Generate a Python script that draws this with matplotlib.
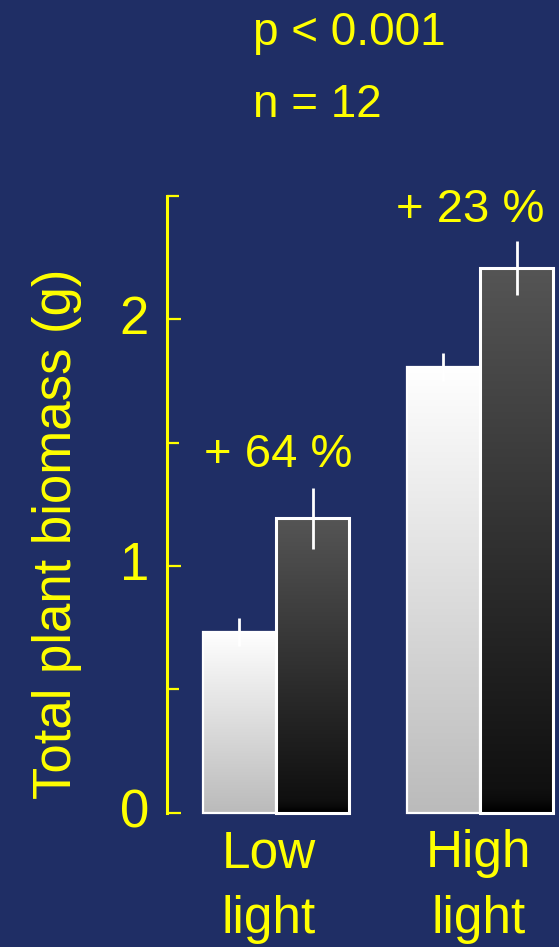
import numpy as np
import matplotlib
matplotlib.use("Agg")
import matplotlib.pyplot as plt
from matplotlib.colors import LinearSegmentedColormap
from matplotlib.transforms import ScaledTranslation

# Data
groups = ["Low\nlight", "High\nlight"]
control_mean = [0.732, 1.807]
control_err = [0.058, 0.057]
treated_mean = [1.193, 2.207]
treated_err = [0.124, 0.110]
increase_labels = ["+ 64 %", "+ 23 %"]
y_ticks = [0, 1, 2]
y_minor = [0.5, 1.5, 2.5]

BG = "#1f2e65"
YEL = "#ffff00"
FONT = "Liberation Sans"

plt.rcParams["font.family"] = [FONT, "DejaVu Sans"]

W, H = 559, 947
fig = plt.figure(figsize=(W / 100, H / 100), dpi=100, facecolor=BG)

# axes in pixel terms: spine at x=167, y=0 at 812.5 px, y=2.5 at 196 px
ax_left, ax_bottom_px, ax_top_px = 167, 812.5, 196
ax = fig.add_axes([ax_left / W, (H - ax_bottom_px) / H,
                   (W - ax_left) / W, (ax_bottom_px - ax_top_px) / H])
ax.set_facecolor("none")

x = np.arange(len(groups))
bw = 0.358

light_cmap = LinearSegmentedColormap.from_list("light", ["#bbbbbb", "#ffffff"])
dark_cmap = LinearSegmentedColormap.from_list(
    "dark", [(0.0, "#000000"), (0.02, "#0b0b0b"), (0.04, "#101010"), (1.0, "#555555")])
grad = np.linspace(0, 1, 256).reshape(-1, 1)

for xi, m, cmap in [(xx - bw / 2, mm, light_cmap) for xx, mm in zip(x, control_mean)] + \
                   [(xx + bw / 2, mm, dark_cmap) for xx, mm in zip(x, treated_mean)]:
    ax.imshow(grad, cmap=cmap, origin="lower", aspect="auto",
              extent=(xi - bw / 2, xi + bw / 2, 0, m), zorder=1, interpolation="bilinear")

ax.bar(x - bw / 2, control_mean, bw, facecolor="none", edgecolor="white",
       linewidth=1.6, zorder=2, clip_on=False)
ax.bar(x + bw / 2, treated_mean, bw, facecolor="none", edgecolor="white",
       linewidth=2.2, zorder=2, clip_on=False)
ax.errorbar(x - bw / 2, control_mean, yerr=control_err, fmt="none",
            ecolor="white", elinewidth=2.0, capsize=0, zorder=3)
ax.errorbar(x + bw / 2, treated_mean, yerr=treated_err, fmt="none",
            ecolor="white", elinewidth=2.0, capsize=0, zorder=3)

ax.set_xlim((ax_left - 276) / 204, (W - 276) / 204)
ax.set_ylim(0, 2.5)

for s in ["top", "right", "bottom"]:
    ax.spines[s].set_visible(False)
ax.spines["left"].set_color(YEL)
ax.spines["left"].set_linewidth(2.2)

ax.set_yticks(y_ticks)
ax.set_yticks(y_minor, minor=True)
ax.tick_params(axis="y", which="major", direction="in", length=10, width=1.6,
               color=YEL, labelcolor=YEL, labelsize=38, pad=13)
ax.tick_params(axis="y", which="minor", direction="in", length=8.5, width=1.6,
               color=YEL)
# tick numbers sit slightly above their tick marks
for lab in ax.get_yticklabels():
    lab.set_transform(lab.get_transform() + ScaledTranslation(0, 5 / 100, fig.dpi_scale_trans))

ax.set_xticks(x)
ax.set_xticklabels(groups, fontsize=37, color=YEL, linespacing=1.45)
ax.tick_params(axis="x", length=0, pad=12)
for lab, dx in zip(ax.get_xticklabels(), [-7, -1]):
    lab.set_transform(lab.get_transform() + ScaledTranslation(dx / 100, 0, fig.dpi_scale_trans))

# y-axis title
fig.text(57 / W, (H - 534) / H, "Total plant biomass (g)", rotation=90,
         ha="center", va="center", color=YEL, fontsize=38)

# percentage increase above each treated bar
for xi, lab, (px, py) in zip(x, increase_labels, [(278, 467), (470.5, 222)]):
    fig.text(px / W, (H - py) / H, lab, ha="center", va="baseline",
             color=YEL, fontsize=34)

fig.text(253 / W, (H - 45) / H, "p < 0.001", ha="left", va="baseline",
         color=YEL, fontsize=33)
fig.text(253 / W, (H - 117) / H, "n = 12", ha="left", va="baseline",
         color=YEL, fontsize=33)

fig.savefig("out.png", dpi=100, facecolor=BG)
